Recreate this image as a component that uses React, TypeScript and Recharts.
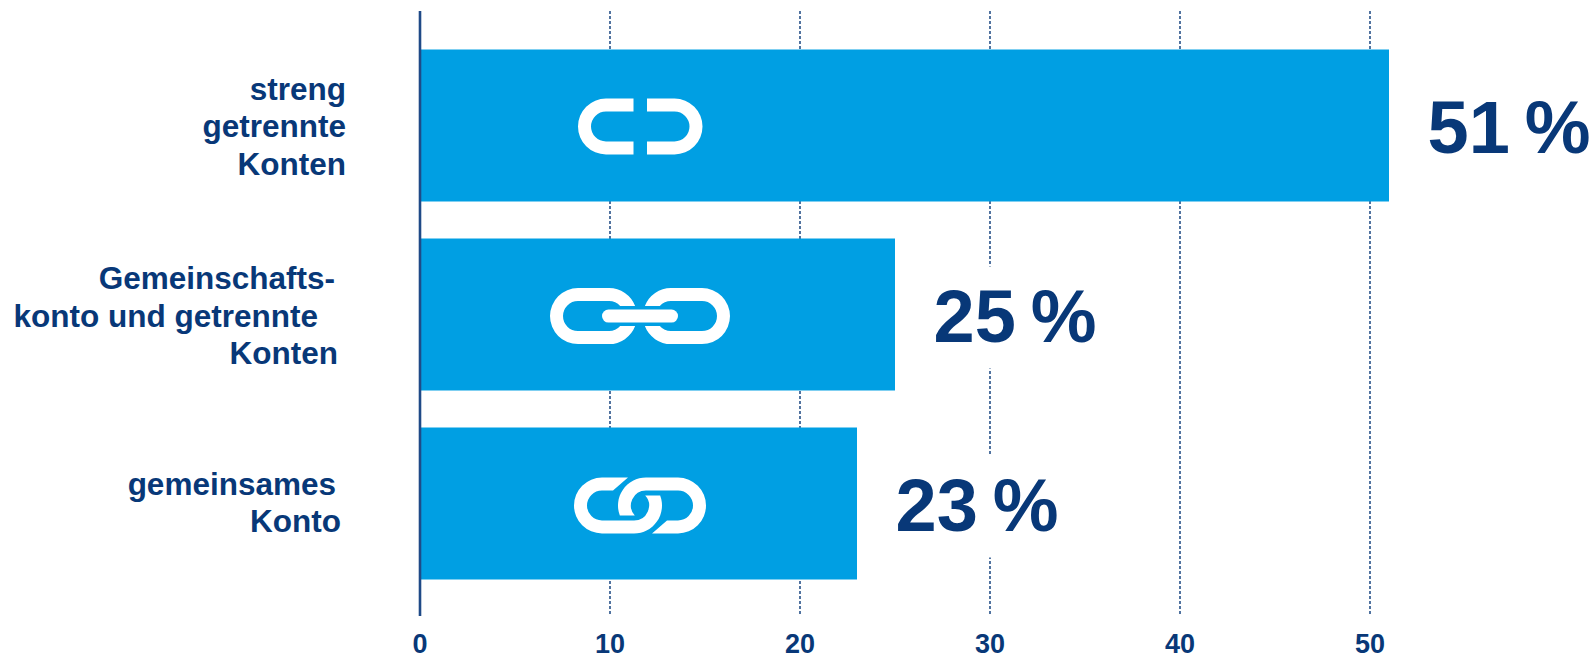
import { BarChart, Bar, XAxis, YAxis, CartesianGrid, LabelList } from "recharts";

const categories = ["streng getrennte Konten", "Gemeinschaftskonto und getrennte Konten", "gemeinsames Konto"];
const values = [51, 25, 23];
const xTicks = [0, 10, 20, 30, 40, 50];
const categoryLines = [
  ["streng", "getrennte", "Konten"],
  ["Gemeinschafts-", "konto und getrennte", "Konten"],
  ["gemeinsames", "Konto"],
];

const data = categories.map((name, i) => ({ name, value: values[i] }));

const NAVY = "#083878";
const BLUE = "#009FE3";
const FONT = "'Liberation Sans', Arial, sans-serif";

// the labels in the original are not aligned to one right edge
const lineRight = [
  [346, 346, 346],
  [335, 318, 338],
  [336, 341],
];
const lineOffset = [
  [-25, 12, 50],
  [-25, 13, 50],
  [-8, 29],
];

const CategoryTick = ({ y, index }: any) => (
  <g>
    {categoryLines[index].map((line, i) => (
      <text
        key={i}
        x={lineRight[index][i]}
        y={y + lineOffset[index][i]}
        textAnchor="end"
        fontFamily={FONT}
        fontWeight={700}
        fontSize={31.5}
        fill={NAVY}
      >
        {line}
      </text>
    ))}
  </g>
);

const ValueTick = ({ x, y, payload }: any) => (
  <text
    x={x}
    y={y + 29}
    textAnchor="middle"
    fontFamily={FONT}
    fontWeight={700}
    fontSize={27}
    fill={NAVY}
  >
    {payload.value}
  </text>
);

// chain link icons, drawn around the middle of the icon
const iconPaths = [
  [
    "M-6.5,-28 H-34 A28,28 0 0 0 -34,28 H-6.5 V15 H-34 A15,15 0 0 1 -34,-15 H-6.5 Z",
    "M7,-28 H34.5 A28,28 0 0 1 34.5,28 H7 V15 H34.5 A15,15 0 0 0 34.5,-15 H7 Z",
  ],
  [
    "M-4.85,-10 A28,28 0 0 0 -31,-28 H-62 A28,28 0 0 0 -62,28 H-31 A28,28 0 0 0 -4.85,10 H-19.8 A15,15 0 0 1 -31,15 H-62 A15,15 0 0 1 -62,-15 H-31 A15,15 0 0 1 -19.8,-10 Z",
    "M4.85,-10 A28,28 0 0 1 31,-28 H62 A28,28 0 0 1 62,28 H31 A28,28 0 0 1 4.85,10 H19.8 A15,15 0 0 0 31,15 H62 A15,15 0 0 0 62,-15 H31 A15,15 0 0 0 19.8,-10 Z",
    "M-31.5,-6.5 H31.5 A6.5,6.5 0 0 1 31.5,6.5 H-31.5 A6.5,6.5 0 0 1 -31.5,-6.5 Z",
  ],
  [
    "M-12,-28 H-38 A28,28 0 0 0 -38,28 H-6 A28,28 0 0 0 20.15,-10 H5.2 A15,15 0 0 1 -6,15 H-38 A15,15 0 0 1 -38,-15 H-27 Z",
    "M12,28 H38 A28,28 0 0 0 38,-28 H6 A28,28 0 0 0 -20.15,10 H-5.2 A15,15 0 0 1 6,-15 H38 A15,15 0 0 1 38,15 H27 Z",
  ],
];
const iconDrop = [1, 1.6, 2];

const BarWithIcon = ({ x, y, width, height, index }: any) => (
  <g>
    <rect x={x} y={y} width={width} height={height} fill={BLUE} />
    <g transform={`translate(${x + 220},${y + height / 2 + iconDrop[index]})`}>
      {iconPaths[index].map((d, i) => (
        <path key={i} d={d} fill="#fff" />
      ))}
    </g>
  </g>
);

// white box behind the number hides the grid line, same as in the original
const ValueLabel = ({ x, y, width, height, value }: any) => {
  const end = x + width;
  const mid = y + height / 2;
  return (
    <g>
      <rect x={end + 2} y={mid - 48} width={200} height={102} fill="#fff" />
      <text
        x={end + 38.5}
        y={mid + 27.5}
        fontFamily={FONT}
        fontWeight={700}
        fontSize={74}
        wordSpacing={-5.5}
        fill={NAVY}
      >
        {`${value} %`}
      </text>
    </g>
  );
};

export default function App() {
  return (
    <div style={{ position: "absolute", left: 0, top: 0 }}>
      <BarChart
        width={1593}
        height={657}
        data={data}
        layout="vertical"
        barSize={152}
        margin={{ top: 11, right: 33, left: 0, bottom: 0 }}
      >
        <CartesianGrid
          horizontal={false}
          verticalValues={xTicks}
          stroke={NAVY}
          strokeWidth={1.4}
          strokeDasharray="3 2"
        />
        <XAxis
          type="number"
          domain={[0, 60]}
          ticks={xTicks}
          axisLine={false}
          tickLine={false}
          height={41}
          tick={<ValueTick />}
        />
        <YAxis
          type="category"
          dataKey="name"
          width={420}
          interval={0}
          padding={{ top: 19.5, bottom: 18.5 }}
          axisLine={{ stroke: "#1F4A87", strokeWidth: 2.6 }}
          tickLine={false}
          tick={<CategoryTick />}
        />
        <Bar dataKey="value" isAnimationActive={false} shape={<BarWithIcon />}>
          <LabelList dataKey="value" content={<ValueLabel />} />
        </Bar>
      </BarChart>
    </div>
  );
}
